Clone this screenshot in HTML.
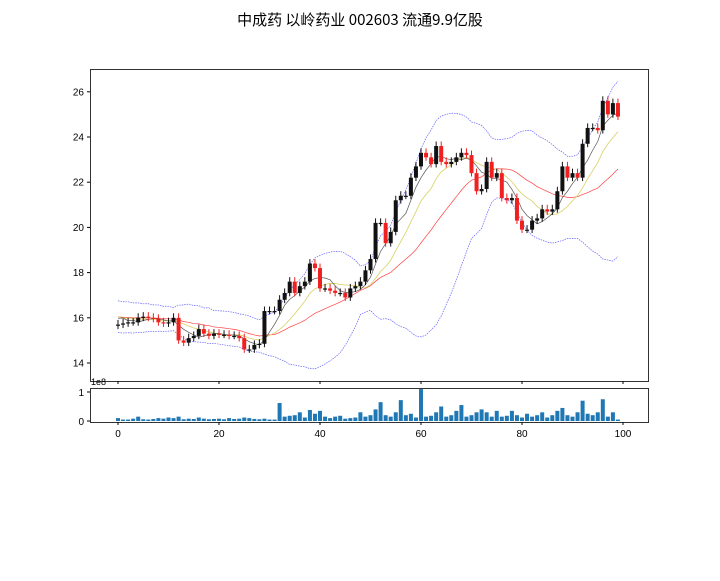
<!DOCTYPE html>
<html><head><meta charset="utf-8">
<style>body{margin:0;background:#fff}svg text{font-family:"Liberation Sans","Noto Sans CJK SC",sans-serif}</style>
</head><body>
<svg id="s" width="720" height="576" xmlns="http://www.w3.org/2000/svg">
<rect width="720" height="576" fill="#fff"/>
<text x="360" y="25" text-anchor="middle" font-size="15" fill="#000" style="font-family:'WenQuanYi Zen Hei','Noto Sans CJK SC',sans-serif">中成药 以岭药业 002603 流通9.9亿股</text>
</svg>
<script>
var C=[15.7,15.75,15.8,15.8,16.0,16.05,16.0,15.95,15.8,15.75,15.8,16.0,15.0,14.9,15.1,15.2,15.5,15.3,15.2,15.3,15.25,15.25,15.2,15.2,15.1,14.6,14.6,14.8,14.85,16.3,16.3,16.3,16.8,17.1,17.6,17.1,17.4,17.6,18.4,18.2,17.3,17.3,17.2,17.1,17.1,16.9,17.3,17.4,17.6,18.1,18.6,20.2,20.2,19.3,19.8,21.2,21.4,21.4,22.2,22.7,23.3,23.1,22.8,23.6,22.9,22.8,22.9,23.1,23.3,23.2,22.4,21.6,21.7,22.9,22.2,22.4,21.3,21.2,21.3,20.3,19.9,19.9,20.3,20.4,20.8,20.7,20.8,21.6,22.7,22.2,22.4,22.2,23.7,24.4,24.4,24.3,25.6,25.0,25.5,24.9];
var V=[.1,.05,.05,.08,.15,.06,.05,.07,.1,.08,.12,.1,.15,.06,.08,.07,.12,.08,.06,.07,.08,.06,.1,.07,.08,.12,.1,.07,.06,.08,.05,.05,.62,.15,.18,.2,.3,.12,.38,.25,.35,.15,.1,.15,.18,.08,.1,.12,.3,.15,.2,.4,.65,.2,.15,.3,.72,.2,.25,.12,1.1,.15,.18,.3,.5,.15,.2,.35,.55,.15,.2,.3,.4,.3,.15,.35,.15,.18,.35,.2,.12,.25,.15,.2,.3,.12,.2,.35,.45,.2,.15,.3,.7,.25,.2,.3,.75,.15,.3,.05];
var s=document.getElementById('s'),h='';
function X(i){return 118+5.05*i}function Y(v){return 363-(v-14)*22.6}
h+='<rect x="90.5" y="69.5" width="558" height="312" fill="none" stroke="#000" stroke-width="0.8"/>';
h+='<rect x="90.5" y="388.5" width="558" height="34" fill="none" stroke="#000" stroke-width="0.8"/>';
for(var v=14;v<=26;v+=2){var y=Y(v);h+='<line x1="87" x2="90" y1="'+y+'" y2="'+y+'" stroke="#000"/><text x="84" y="'+(y+3.5)+'" font-size="10" text-anchor="end">'+v+'</text>';}
for(var t=0;t<=100;t+=20){var x=X(t);h+='<line x1="'+x+'" x2="'+x+'" y1="381" y2="384" stroke="#000"/><line x1="'+x+'" x2="'+x+'" y1="422" y2="425" stroke="#000"/><text x="'+x+'" y="437" font-size="10" text-anchor="middle">'+t+'</text>';}
h+='<line x1="87" x2="90" y1="421" y2="421" stroke="#000"/><text x="84" y="425" font-size="10" text-anchor="end">0</text>';
h+='<line x1="87" x2="90" y1="392" y2="392" stroke="#000"/><text x="84" y="396" font-size="10" text-anchor="end">1</text>';
h+='<text x="91" y="385" font-size="9">1e8</text>';
var P=[];for(var k=0;k<20;k++)P.push(k%2?16.4:15.7);var A=P.concat(C);
function ma(n,i){var a=0;for(var k=0;k<n;k++)a+=A[i+20-k];return a/n}
function poly(arr,col,w){return '<polyline fill="none" stroke="'+col+'" stroke-width="'+w+'" points="'+arr.join(' ')+'"/>'}
var m5=[],m10=[],m20=[],up=[],lo=[];
for(var i=0;i<C.length;i++){var m=ma(20,i),sd=0;for(var k=0;k<20;k++)sd+=Math.pow(A[i+20-k]-m,2);sd=Math.sqrt(sd/20);
m5.push(X(i)+','+Y(ma(5,i)));m10.push(X(i)+','+Y(ma(10,i)));m20.push(X(i)+','+Y(m));up.push(X(i)+','+Y(m+2*sd));lo.push(X(i)+','+Y(m-2*sd));}
h+=poly(up,'#6060ff',0.7).replace('/>',' stroke-dasharray="1.5,1"/>');h+=poly(lo,'#6060ff',0.7).replace('/>',' stroke-dasharray="1.5,1"/>');
h+=poly(m20,'#ff4040',0.7)+poly(m10,'#d8d060',0.8)+poly(m5,'#555',0.7);
for(var i=0;i<C.length;i++){var o=i?C[i-1]:C[0]-0.05,c=C[i],col=c>=o?'#111':'#f02020';var t=Math.max(o,c),b=Math.min(o,c),x=X(i);
h+='<line x1="'+x+'" x2="'+x+'" y1="'+Y(t+0.2)+'" y2="'+Y(b-0.15)+'" stroke="'+col+'" stroke-width="1"/>';
var hh=Math.max((t-b)*22.6,1.2);h+='<rect x="'+(x-2)+'" y="'+Y(t)+'" width="4" height="'+hh+'" fill="'+col+'"/>';
h+='<rect x="'+(X(i)-2)+'" y="'+(421-V[i]*29)+'" width="4" height="'+(V[i]*29)+'" fill="#1f77b4"/>';}
s.insertAdjacentHTML('beforeend',h);
</script>
</body></html>
